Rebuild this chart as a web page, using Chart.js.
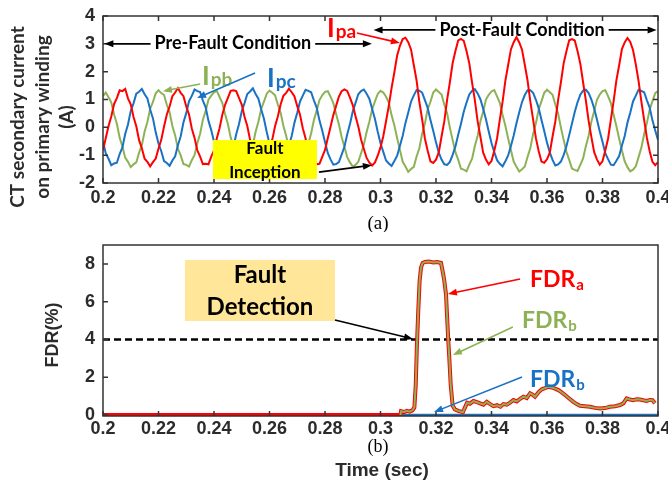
<!DOCTYPE html>
<html>
<head>
<meta charset="utf-8">
<script src="https://cdn.jsdelivr.net/npm/chart.js@4.4.1/dist/chart.umd.min.js"></script>
<style>
    html, body { margin: 0; padding: 0; background: #fff; }
    #wrap { position: relative; width: 668px; height: 491px; overflow: hidden; }
    #cTop { position: absolute; left: 0; top: 0; }
    #cBot { position: absolute; left: 0; top: 232px; }
</style>
</head>
<body>
<div id="wrap">
    <canvas id="cTop" width="668" height="232"></canvas>
    <canvas id="cBot" width="668" height="259"></canvas>
</div>
<script>
// amostras a cada 1 ms, de 0.2 s a 0.4 s
var startTime = 0.2;
var sampleStep = 0.001;

var xTicks = [0.2, 0.22, 0.24, 0.26, 0.28, 0.3, 0.32, 0.34, 0.36, 0.38, 0.4];
var yTicksCurrent = [-2, -1, 0, 1, 2, 3, 4];
var yTicksFdr = [0, 2, 4, 6, 8];

// corrente fase a (vermelho)
var ipa = [
    -0.82, -0.38, 0.05, 0.40, 0.84, 1.05, 1.33, 1.30, 1.38, 1.04, 0.83, 0.37, 0.04, -0.46, -0.75, -1.13, -1.24, -1.40, -1.25, -1.12,
    -0.76, -0.45, 0.03, 0.46, 0.75, 1.12, 1.25, 1.41, 1.24, 1.12, 0.75, 0.46, -0.04, -0.38, -0.83, -1.05, -1.32, -1.31, -1.33, -1.05,
    -0.83, -0.40, -0.03, 0.45, 0.81, 1.06, 1.31, 1.33, 1.30, 1.06, 0.82, 0.38, 0.05, -0.45, -0.76, -1.12, -1.25, -1.38, -1.24, -1.11,
    -0.75, -0.44, 0.04, 0.39, 0.82, 1.13, 1.24, 1.39, 1.26, 1.11, 0.76, 0.45, -0.03, -0.40, -0.82, -1.06, -1.31, -1.33, -1.31, -1.06,
    -0.81, -0.39, 0.02, 0.44, 0.77, 1.10, 1.30, 1.36, 1.31, 1.07, 0.80, 0.40, 0.03, -0.44, -0.78, -1.10, -1.27, -1.37, -1.26, -1.02,
    -0.72, -0.32, 0.22, 0.78, 1.42, 1.98, 2.58, 2.93, 3.17, 3.22, 3.06, 2.80, 2.24, 1.69, 0.91, 0.29, -0.40, -0.84, -1.22, -1.28,
    -1.16, -0.90, -0.33, 0.22, 0.99, 1.62, 2.31, 2.74, 3.12, 3.18, 3.11, 2.74, 2.30, 1.61, 0.98, 0.22, -0.34, -0.91, -1.16, -1.33,
    -1.21, -0.84, -0.40, 0.28, 0.92, 1.68, 2.24, 2.80, 3.06, 3.24, 3.05, 2.79, 2.25, 1.68, 0.92, 0.28, -0.39, -0.85, -1.23, -1.27,
    -1.15, -0.91, -0.33, 0.21, 0.98, 1.61, 2.30, 2.73, 3.13, 3.17, 3.12, 2.74, 2.29, 1.62, 0.97, 0.23, -0.35, -0.89, -1.15, -1.34,
    -1.22, -0.83, -0.41, 0.27, 0.93, 1.69, 2.23, 2.81, 3.05, 3.21, 3.07, 2.78, 2.26, 1.66, 0.93, 0.27, -0.38, -0.86, -1.24, -1.36,
    -1.25
];

// corrente fase b (verde)
var ipb = [
    1.12, 1.25, 1.08, 0.89, 0.46, 0.13, -0.37, -0.69, -1.09, -1.24, -1.43, -1.33, -1.26, -0.91, -0.64, -0.15, 0.19, 0.67, 0.91, 1.22,
    1.33, 1.23, 1.16, 0.81, 0.54, 0.05, -0.29, -0.77, -1.01, -1.32, -1.35, -1.41, -1.18, -0.99, -0.56, -0.23, 0.27, 0.59, 0.99, 1.14,
    1.26, 1.31, 1.09, 0.88, 0.47, 0.12, -0.36, -0.70, -1.08, -1.25, -1.42, -1.34, -1.25, -0.92, -0.63, -0.16, 0.20, 0.66, 0.92, 1.21,
    1.32, 1.24, 1.15, 0.82, 0.53, 0.06, -0.30, -0.76, -1.02, -1.31, -1.36, -1.40, -1.19, -0.98, -0.57, -0.22, 0.26, 0.60, 0.98, 1.15,
    1.27, 1.30, 1.10, 0.87, 0.48, 0.11, -0.35, -0.71, -1.07, -1.26, -1.41, -1.35, -1.24, -0.93, -0.62, -0.17, 0.21, 0.65, 0.93, 1.20,
    1.31, 1.25, 1.10, 0.89, 0.43, 0.07, -0.39, -0.81, -1.24, -1.41, -1.60, -1.50, -1.42, -1.05, -0.75, -0.23, 0.14, 0.65, 0.92, 1.25,
    1.36, 1.27, 1.18, 0.81, 0.51, -0.01, -0.46, -0.89, -1.16, -1.49, -1.52, -1.58, -1.34, -1.13, -0.67, -0.31, 0.22, 0.57, 1.00, 1.17,
    1.29, 1.34, 1.11, 0.88, 0.44, 0.06, -0.40, -0.82, -1.23, -1.42, -1.59, -1.51, -1.41, -1.06, -0.74, -0.24, 0.15, 0.64, 0.93, 1.24,
    1.35, 1.26, 1.17, 0.82, 0.50, 0.00, -0.45, -0.88, -1.17, -1.48, -1.53, -1.57, -1.35, -1.12, -0.68, -0.30, 0.21, 0.58, 0.99, 1.18,
    1.30, 1.33, 1.12, 0.87, 0.45, 0.05, -0.41, -0.83, -1.22, -1.43, -1.58, -1.52, -1.40, -1.07, -0.73, -0.25, 0.16, 0.63, 0.94, 1.23,
    1.30
];

// corrente fase c (azul)
var ipc = [
    -0.52, -0.94, -1.13, -1.36, -1.30, -1.27, -0.96, -0.72, -0.24, 0.10, 0.59, 0.86, 1.21, 1.28, 1.38, 1.19, 1.04, 0.64, 0.32, -0.18,
    -0.58, -0.86, -1.21, -1.28, -1.38, -1.19, -1.04, -0.64, -0.32, 0.18, 0.51, 0.94, 1.13, 1.36, 1.30, 1.27, 0.96, 0.72, 0.24, -0.10,
    -0.51, -0.93, -1.14, -1.35, -1.31, -1.26, -0.97, -0.71, -0.25, 0.11, 0.58, 0.87, 1.20, 1.29, 1.40, 1.20, 1.03, 0.65, 0.31, -0.17,
    -0.59, -0.87, -1.20, -1.29, -1.37, -1.20, -1.03, -0.65, -0.31, 0.17, 0.52, 0.93, 1.14, 1.35, 1.31, 1.26, 0.97, 0.71, 0.25, -0.11,
    -0.53, -0.92, -1.15, -1.34, -1.32, -1.25, -0.98, -0.70, -0.26, 0.12, 0.57, 0.88, 1.19, 1.30, 1.36, 1.21, 1.02, 0.66, 0.30, -0.16,
    -0.57, -0.88, -1.19, -1.30, -1.39, -1.21, -1.02, -0.66, -0.30, 0.16, 0.53, 0.92, 1.15, 1.34, 1.32, 1.25, 0.98, 0.70, 0.26, -0.12,
    -0.54, -0.91, -1.16, -1.33, -1.35, -1.24, -0.99, -0.69, -0.27, 0.13, 0.56, 0.89, 1.18, 1.31, 1.37, 1.22, 1.01, 0.67, 0.29, -0.15,
    -0.56, -0.89, -1.18, -1.31, -1.40, -1.22, -1.01, -0.67, -0.29, 0.15, 0.54, 0.91, 1.16, 1.33, 1.33, 1.24, 0.99, 0.69, 0.27, -0.13,
    -0.55, -0.90, -1.17, -1.37, -1.33, -1.23, -1.00, -0.68, -0.28, 0.14, 0.55, 0.90, 1.17, 1.32, 1.35, 1.23, 1.00, 0.68, 0.28, -0.14,
    -0.52, -0.93, -1.14, -1.34, -1.36, -1.20, -1.03, -0.65, -0.31, 0.17, 0.52, 0.93, 1.14, 1.35, 1.31, 1.26, 0.97, 0.71, 0.25, -0.11,
    -0.45
];

// FDR fase a: [tempo, %]
var fdrA = [
    [0.2, 0], [0.3072, 0], [0.3074, 0.20], [0.3085, 0.16], [0.3095, 0.22], [0.3105, 0.18], [0.3115, 0.25],
    [0.3122, 0.40], [0.3127, 1.6], [0.3131, 3.6], [0.3136, 5.5], [0.3141, 7.1], [0.3146, 7.8], [0.3152, 8.05],
    [0.3160, 8.10], [0.3175, 8.12], [0.3190, 8.08], [0.3205, 8.10], [0.3218, 8.05], [0.3224, 7.6], [0.3229, 7.2],
    [0.3236, 6.4], [0.3240, 5.2], [0.3244, 4.0], [0.3248, 3.0], [0.3253, 1.6], [0.3260, 0.50], [0.3268, 0.30],
    [0.3280, 0.22], [0.3297, 0.15], [0.3305, 0.42], [0.3312, 0.65], [0.3322, 0.60], [0.3335, 0.74], [0.3348, 0.68],
    [0.3359, 0.62], [0.3371, 0.55], [0.3383, 0.70], [0.3395, 0.58], [0.3407, 0.47], [0.3420, 0.52], [0.3432, 0.44],
    [0.3443, 0.58], [0.3455, 0.55], [0.3467, 0.66], [0.3479, 0.79], [0.3491, 0.72], [0.3503, 0.86], [0.3515, 0.97],
    [0.3527, 0.90], [0.3539, 1.15], [0.3548, 1.08], [0.3557, 0.97], [0.3569, 1.20], [0.3581, 1.36], [0.3593, 1.42],
    [0.3605, 1.50], [0.3617, 1.46], [0.3629, 1.40], [0.3641, 1.32], [0.3653, 1.20], [0.3665, 1.06], [0.3680, 0.88],
    [0.3695, 0.70], [0.3707, 0.58], [0.3719, 0.49], [0.3737, 0.47], [0.3755, 0.44], [0.3773, 0.38], [0.3791, 0.35],
    [0.3809, 0.37], [0.3827, 0.44], [0.3845, 0.47], [0.3863, 0.53], [0.3875, 0.62], [0.3887, 0.88], [0.3899, 0.82],
    [0.3911, 0.79], [0.3923, 0.84], [0.3935, 0.82], [0.3947, 0.78], [0.3959, 0.75], [0.3971, 0.80], [0.3980, 0.79],
    [0.3989, 0.62]
];
// FDR fase b sobrepõe a fase a depois do inicio da falta
var fdrB = fdrA.filter(function (p) { return p[0] >= 0.3072; });
var fdrC = [[0.2, 0], [0.4, 0]];
var fdrLimite = [[0.2, 4], [0.4, 4]];

var VERMELHO = '#FF0000';
var VERDE = '#8DB255';
var AZUL = '#1A72C4';
var TEXTO = '#2b2b2b';
var FONTE_TICK = { family: 'Liberation Sans', size: 18, weight: 'bold' };
var FONTE_NOTA = 'Lato';

function serie(valores) {
    return valores.map(function (v, i) {
        return { x: +(startTime + i * sampleStep).toFixed(3), y: v };
    });
}

function pares(lista) {
    return lista.map(function (p) { return { x: p[0], y: p[1] }; });
}

function fixarTicks(lista) {
    return function (scale) {
        scale.ticks = lista.map(function (v) { return { value: v }; });
    };
}

function seta(ctx, x1, y1, x2, y2, cor, largura) {
    var ang = Math.atan2(y2 - y1, x2 - x1);
    var cab = 9, meia = 3.5;
    ctx.save();
    ctx.strokeStyle = cor;
    ctx.fillStyle = cor;
    ctx.lineWidth = largura;
    ctx.beginPath();
    ctx.moveTo(x1, y1);
    ctx.lineTo(x2 - Math.cos(ang) * cab * 0.8, y2 - Math.sin(ang) * cab * 0.8);
    ctx.stroke();
    ctx.beginPath();
    ctx.moveTo(x2, y2);
    ctx.lineTo(x2 - cab * Math.cos(ang) + meia * Math.sin(ang), y2 - cab * Math.sin(ang) - meia * Math.cos(ang));
    ctx.lineTo(x2 - cab * Math.cos(ang) - meia * Math.sin(ang), y2 - cab * Math.sin(ang) + meia * Math.cos(ang));
    ctx.closePath();
    ctx.fill();
    ctx.restore();
}

function rotulo(ctx, x, y, principal, indice, cor, tam, tamIndice, desce) {
    ctx.save();
    ctx.fillStyle = cor;
    ctx.textAlign = 'left';
    ctx.textBaseline = 'alphabetic';
    ctx.font = 'bold ' + tam + 'px ' + FONTE_NOTA;
    ctx.fillText(principal, x, y);
    var w = ctx.measureText(principal).width;
    ctx.font = 'bold ' + tamIndice + 'px ' + FONTE_NOTA;
    ctx.fillText(indice, x + w + 1, y + desce);
    ctx.restore();
}

function caixa(ctx, x1, y1, x2, y2, cor, linhas, yLinhas, tam) {
    ctx.save();
    ctx.fillStyle = cor;
    ctx.fillRect(x1, y1, x2 - x1, y2 - y1);
    ctx.fillStyle = '#000';
    ctx.font = 'bold ' + tam + 'px ' + FONTE_NOTA;
    ctx.textAlign = 'center';
    ctx.textBaseline = 'middle';
    for (var i = 0; i < linhas.length; i++) {
        ctx.fillText(linhas[i], (x1 + x2) / 2, yLinhas[i]);
    }
    ctx.restore();
}

function textoVertical(ctx, texto, x, y, fonte) {
    ctx.save();
    ctx.translate(x, y);
    ctx.rotate(-Math.PI / 2);
    ctx.font = fonte;
    ctx.fillStyle = TEXTO;
    ctx.textAlign = 'center';
    ctx.textBaseline = 'middle';
    ctx.fillText(texto, 0, 0);
    ctx.restore();
}

// moldura com ticks para dentro (estilo MATLAB)
function moldura(espelhar) {
    return {
        id: 'moldura',
        afterDatasetsDraw: function (chart) {
            var ctx = chart.ctx, a = chart.chartArea;
            var sx = chart.scales.x, sy = chart.scales.y;
            ctx.save();
            ctx.strokeStyle = '#333';
            ctx.lineWidth = 1.5;
            ctx.strokeRect(a.left, a.top, a.right - a.left, a.bottom - a.top);
            ctx.beginPath();
            sx.ticks.forEach(function (t) {
                var x = sx.getPixelForValue(t.value);
                ctx.moveTo(x, a.bottom); ctx.lineTo(x, a.bottom - 5);
                if (espelhar) { ctx.moveTo(x, a.top); ctx.lineTo(x, a.top + 5); }
            });
            sy.ticks.forEach(function (t) {
                var y = sy.getPixelForValue(t.value);
                ctx.moveTo(a.left, y); ctx.lineTo(a.left + 5, y);
                if (espelhar) { ctx.moveTo(a.right, y); ctx.lineTo(a.right - 5, y); }
            });
            ctx.stroke();
            ctx.restore();
        }
    };
}

var notasCorrente = {
    id: 'notasCorrente',
    afterDraw: function (chart) {
        var ctx = chart.ctx, sx = chart.scales.x, sy = chart.scales.y;
        function px(t) { return sx.getPixelForValue(t); }
        function py(v) { return sy.getPixelForValue(v); }

        ctx.save();
        ctx.font = 'bold 18px ' + FONTE_NOTA;
        ctx.fillStyle = '#000';
        ctx.textAlign = 'center';
        ctx.textBaseline = 'middle';

        // Pre-Fault Condition
        var cx = px(0.2468), cy = py(3.03);
        var w = ctx.measureText('Pre-Fault Condition').width;
        ctx.fillText('Pre-Fault Condition', cx, cy);
        seta(ctx, cx - w / 2 - 4, py(3.0), px(0.2005), py(3.0), '#000', 1.6);
        seta(ctx, cx + w / 2 + 4, py(3.0), px(0.2969), py(3.0), '#000', 1.6);

        // Post-Fault Condition
        cx = px(0.351); cy = py(3.5);
        w = ctx.measureText('Post-Fault Condition').width;
        ctx.fillText('Post-Fault Condition', cx, cy);
        seta(ctx, cx - w / 2 - 4, cy, px(0.2975), cy, '#000', 1.6);
        seta(ctx, cx + w / 2 + 4, cy, px(0.3995), cy, '#000', 1.6);
        ctx.restore();

        // rotulos das fases
        rotulo(ctx, px(0.2807), py(3.24), 'I', 'pa', VERMELHO, 26, 19, 1);
        seta(ctx, px(0.2915), py(3.39), px(0.3070), py(3.03), VERMELHO, 1.6);
        rotulo(ctx, px(0.2357), py(1.52), 'I', 'pb', VERDE, 26, 19, 1);
        seta(ctx, px(0.2350), py(1.56), px(0.2216), py(1.30), VERDE, 1.6);
        rotulo(ctx, px(0.2591), py(1.45), 'I', 'pc', AZUL, 26, 19, 1);
        seta(ctx, px(0.2548), py(1.95), px(0.2339), py(1.05), AZUL, 1.6);

        // Fault Inception
        caixa(ctx, px(0.2396), py(-0.456), px(0.2771), py(-1.858), '#FFFF00',
            ['Fault', 'Inception'], [py(-0.744), py(-1.606)], 17);
        seta(ctx, px(0.2778), py(-1.61), px(0.2969), py(-1.36), '#000', 1.6);

        // titulo do eixo y
        var fy = 'bold 19px ' + FONTE_NOTA;
        textoVertical(ctx, 'CT secondary current', 18, 117, fy);
        textoVertical(ctx, 'on primary winding', 43, 117, fy);
        textoVertical(ctx, '(A)', 67, 117, fy);

        // legenda (a)
        ctx.save();
        ctx.font = '19px "Liberation Serif"';
        ctx.fillStyle = '#000';
        ctx.textAlign = 'center';
        ctx.textBaseline = 'middle';
        ctx.fillText('(a)', 378, 224);
        ctx.restore();
    }
};

var notasFdr = {
    id: 'notasFdr',
    afterDraw: function (chart) {
        var ctx = chart.ctx, sx = chart.scales.x, sy = chart.scales.y;
        function px(t) { return sx.getPixelForValue(t); }
        function py(v) { return sy.getPixelForValue(v); }

        caixa(ctx, px(0.2295), py(8.21), px(0.2836), py(4.98), '#FFE699',
            ['Fault', 'Detection'], [py(7.42), py(5.72)], 24);
        seta(ctx, px(0.2836), py(5.03), px(0.3117), py(4.03), '#000', 1.6);

        rotulo(ctx, px(0.3539), py(6.78), 'FDR', 'a', VERMELHO, 23, 15, 3);
        seta(ctx, px(0.3503), py(7.2), px(0.3243), py(6.41), VERMELHO, 1.6);
        rotulo(ctx, px(0.351), py(4.61), 'FDR', 'b', VERDE, 23, 15, 3);
        seta(ctx, px(0.3477), py(4.66), px(0.3261), py(3.18), VERDE, 1.6);
        rotulo(ctx, px(0.3539), py(1.48), 'FDR', 'b', AZUL, 23, 15, 3);
        seta(ctx, px(0.351), py(2.01), px(0.3193), py(0.16), AZUL, 1.6);

        textoVertical(ctx, 'FDR(%)', 53, 103, 'bold 18px "Liberation Sans"');

        ctx.save();
        ctx.fillStyle = '#000';
        ctx.textAlign = 'center';
        ctx.textBaseline = 'middle';
        ctx.font = '18px "Liberation Serif"';
        ctx.fillText('(b)', 378, 215);
        ctx.font = 'bold 19px "Liberation Sans"';
        ctx.fillStyle = TEXTO;
        ctx.fillText('Time (sec)', 382, 239);
        ctx.restore();
    }
};

function eixoX(altura, padding) {
    return {
        type: 'linear',
        min: 0.2,
        max: 0.4,
        grid: { display: false, drawTicks: false },
        border: { display: false },
        afterBuildTicks: fixarTicks(xTicks),
        afterFit: function (s) { s.height = altura; s.paddingLeft = 0; s.paddingRight = 0; },
        ticks: {
            font: FONTE_TICK,
            color: TEXTO,
            padding: padding,
            maxRotation: 0,
            autoSkip: false,
            callback: function (v) { return String(+v.toFixed(2)); }
        }
    };
}

function eixoY(min, max, lista) {
    return {
        min: min,
        max: max,
        grid: { display: false, drawTicks: false },
        border: { display: false },
        afterBuildTicks: fixarTicks(lista),
        afterFit: function (s) { s.width = 103; s.paddingTop = 0; s.paddingBottom = 0; },
        ticks: { font: FONTE_TICK, color: TEXTO, padding: 8 }
    };
}

function linha(dados, cor, largura, ordem) {
    return {
        data: dados,
        borderColor: cor,
        borderWidth: largura,
        pointRadius: 0,
        tension: 0,
        fill: false,
        order: ordem
    };
}

new Chart(document.getElementById('cTop'), {
    type: 'line',
    data: {
        datasets: [
            linha(serie(ipa), VERMELHO, 2, 0),
            linha(serie(ipc), AZUL, 2, 1),
            linha(serie(ipb), VERDE, 2, 2)
        ]
    },
    options: {
        responsive: false,
        animation: false,
        layout: { padding: { top: 16, left: 0, right: 10, bottom: 0 } },
        plugins: { legend: { display: false }, tooltip: { enabled: false } },
        scales: {
            x: eixoX(49, 4),
            y: eixoY(-2, 4, yTicksCurrent)
        }
    },
    plugins: [moldura(true), notasCorrente]
});

var limite = linha(pares(fdrLimite), '#000', 2.5, 3);
limite.borderDash = [7, 4];

new Chart(document.getElementById('cBot'), {
    type: 'line',
    data: {
        datasets: [
            linha(pares(fdrB), VERDE, 2, 0),
            linha(pares(fdrA), VERMELHO, 4, 1),
            linha(pares(fdrC), AZUL, 2.5, 2),
            limite
        ]
    },
    options: {
        responsive: false,
        animation: false,
        layout: { padding: { top: 13, left: 0, right: 10, bottom: 0 } },
        plugins: { legend: { display: false }, tooltip: { enabled: false } },
        scales: {
            x: eixoX(75, 2),
            y: eixoY(-0.05, 9, yTicksFdr)
        }
    },
    plugins: [moldura(false), notasFdr]
});
</script>
</body>
</html>
